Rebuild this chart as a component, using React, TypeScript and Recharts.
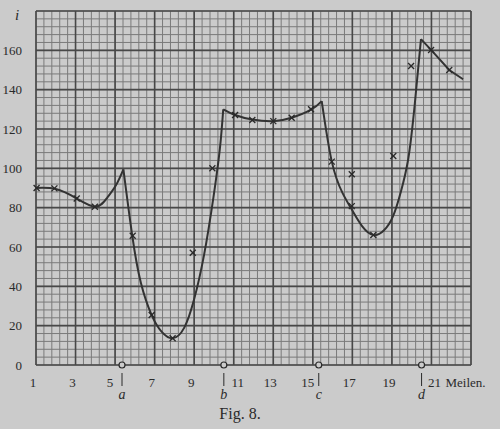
import { LineChart, Line, XAxis, YAxis, ReferenceLine, Scatter } from "recharts";

// curve sections between the stations a, b, c, d  (mile, i)
const sectionStartA = [
  { x: 1, y: 90 }, { x: 2, y: 89.5 }, { x: 3, y: 85 }, { x: 4, y: 80.5 },
  { x: 4.6, y: 85 }, { x: 5.05, y: 91.5 }, { x: 5.42, y: 99.5 },
];
const sectionAB = [
  { x: 5.42, y: 99.5 }, { x: 5.87, y: 65.6 }, { x: 6.3, y: 42 }, { x: 6.85, y: 25.4 },
  { x: 7.35, y: 17 }, { x: 7.91, y: 13.6 }, { x: 8.5, y: 19 }, { x: 9.0, y: 33.5 },
  { x: 9.5, y: 56 }, { x: 9.97, y: 85 }, { x: 10.3, y: 110 }, { x: 10.47, y: 130 },
];
const sectionBC = [
  { x: 10.47, y: 130 }, { x: 11.07, y: 127.1 }, { x: 11.94, y: 124.8 }, { x: 13, y: 124 },
  { x: 13.93, y: 125.7 }, { x: 14.91, y: 129.8 }, { x: 15.45, y: 134.2 },
];
const sectionCD = [
  { x: 15.45, y: 134.2 }, { x: 15.96, y: 103.4 }, { x: 16.5, y: 87.5 }, { x: 17, y: 78.5 },
  { x: 17.5, y: 70.5 }, { x: 18.06, y: 66.1 }, { x: 18.6, y: 68.5 }, { x: 19.07, y: 76 },
  { x: 19.45, y: 88 }, { x: 19.83, y: 105 }, { x: 20.15, y: 132 }, { x: 20.47, y: 165.7 },
];
const sectionEnd = [
  { x: 20.47, y: 165.7 }, { x: 20.98, y: 160.2 }, { x: 21.9, y: 150 }, { x: 22.6, y: 145.3 },
];

const measured = [
  { x: 1.03, y: 90 }, { x: 1.93, y: 89.8 }, { x: 3.06, y: 84.7 }, { x: 3.98, y: 80.5 },
  { x: 5.89, y: 65.7 }, { x: 6.85, y: 25.4 }, { x: 7.91, y: 13.6 }, { x: 8.93, y: 57.1 },
  { x: 9.92, y: 100 }, { x: 11.07, y: 127.1 }, { x: 11.94, y: 124.6 }, { x: 13, y: 124 },
  { x: 13.93, y: 125.7 }, { x: 14.91, y: 130 }, { x: 15.96, y: 103.4 }, { x: 16.97, y: 97 },
  { x: 16.97, y: 80.8 }, { x: 18.06, y: 66.1 }, { x: 19.07, y: 106.3 }, { x: 19.97, y: 152 },
  { x: 20.98, y: 160.2 }, { x: 21.9, y: 150 },
];

const stations = [
  { x: 5.35, y: 0, name: "a" },
  { x: 10.5, y: 0, name: "b" },
  { x: 15.3, y: 0, name: "c" },
  { x: 20.5, y: 0, name: "d" },
];

const xTicks = [1, 3, 5, 7, 9, 11, 13, 15, 17, 19, 21];
const yTicks = [0, 20, 40, 60, 80, 100, 120, 140, 160];

const xMajor = [1, 3, 5, 7, 9, 11, 13, 15, 17, 19, 21, 23];
const yMajor = [0, 20, 40, 60, 80, 100, 120, 140, 160, 180];
const xMinor = Array.from({ length: 56 }, (_, i) => +(1 + i * 0.4).toFixed(2));
const yMinor = Array.from({ length: 46 }, (_, i) => i * 4);

const INK = "#2a2a2a";
const FONT = "'Liberation Serif', 'DejaVu Serif', serif";

// labels next to a station bar sit a little off their gridline
const labelShift: Record<number, number> = { 5: -5, 11: 4, 15: -5, 21: 3 };

const Cross = (props: any) => {
  const { cx, cy } = props;
  const s = 3;
  return (
    <g stroke={INK} strokeWidth={1.3}>
      <line x1={cx - s} y1={cy - s} x2={cx + s} y2={cy + s} />
      <line x1={cx - s} y1={cy + s} x2={cx + s} y2={cy - s} />
    </g>
  );
};

const Station = (props: any) => {
  const { cx, cy, payload } = props;
  return (
    <g>
      <circle cx={cx} cy={cy} r={3} fill="#cbcbcb" stroke={INK} strokeWidth={1.2} />
      <line x1={cx} y1={cy + 8} x2={cx} y2={cy + 21} stroke={INK} strokeWidth={1} />
      <text x={cx} y={cy + 34} textAnchor="middle" fontFamily={FONT} fontStyle="italic" fontSize={14} fill={INK}>
        {payload.name}
      </text>
    </g>
  );
};

const XTick = (props: any) => {
  const { x, y, payload } = props;
  const dx = labelShift[payload.value] ?? -3;
  return (
    <g>
      <text x={x + dx} y={y + 14} textAnchor="middle" fontFamily={FONT} fontSize={13} fill={INK}>
        {payload.value}
      </text>
      {payload.value === 21 && (
        <text x={x + 14} y={y + 14} textAnchor="start" fontFamily={FONT} fontSize={13} fill={INK}>
          Meilen.
        </text>
      )}
    </g>
  );
};

const curveProps = {
  dataKey: "y",
  type: "natural" as const,
  stroke: "#333",
  strokeWidth: 2,
  dot: false,
  activeDot: false,
  isAnimationActive: false,
};

export default function App() {
  return (
    <div style={{ position: "absolute", left: 0, top: 0, width: 500, height: 429, background: "#cbcbcb" }}>
      <LineChart width={500} height={429} margin={{ top: 11, right: 29, left: 0, bottom: 0 }}>
        <XAxis
          type="number"
          dataKey="x"
          domain={[1, 23]}
          ticks={xTicks}
          axisLine={false}
          tickLine={false}
          height={64}
          tick={<XTick />}
          allowDuplicatedCategory={false}
        />
        <YAxis
          type="number"
          dataKey="y"
          domain={[0, 180]}
          ticks={yTicks}
          axisLine={false}
          tickLine={false}
          width={36}
          tick={{ fontFamily: FONT, fontSize: 13, fill: INK, dx: -6 }}
        />
        {xMinor.map((v) => (
          <ReferenceLine key={"xm" + v} x={v} stroke="#7a7a7a" strokeWidth={1} />
        ))}
        {yMinor.map((v) => (
          <ReferenceLine key={"ym" + v} y={v} stroke="#7a7a7a" strokeWidth={1} />
        ))}
        {xMajor.map((v) => (
          <ReferenceLine key={"xM" + v} x={v} stroke="#484848" strokeWidth={1.6} />
        ))}
        {yMajor.map((v) => (
          <ReferenceLine key={"yM" + v} y={v} stroke="#484848" strokeWidth={1.6} />
        ))}
        <Line {...curveProps} data={sectionStartA} />
        <Line {...curveProps} data={sectionAB} />
        <Line {...curveProps} data={sectionBC} />
        <Line {...curveProps} data={sectionCD} />
        <Line {...curveProps} type="linear" data={sectionEnd} />
        <Scatter data={measured} dataKey="y" shape={<Cross />} isAnimationActive={false} />
        <Scatter data={stations} dataKey="y" shape={<Station />} isAnimationActive={false} />
        <text x={17} y={20} textAnchor="middle" fontFamily={FONT} fontStyle="italic" fontSize={15} fill={INK}>
          i
        </text>
        <text x={240} y={419} textAnchor="middle" fontFamily={FONT} fontSize={16} fill={INK}>
          Fig. 8.
        </text>
      </LineChart>
    </div>
  );
}
